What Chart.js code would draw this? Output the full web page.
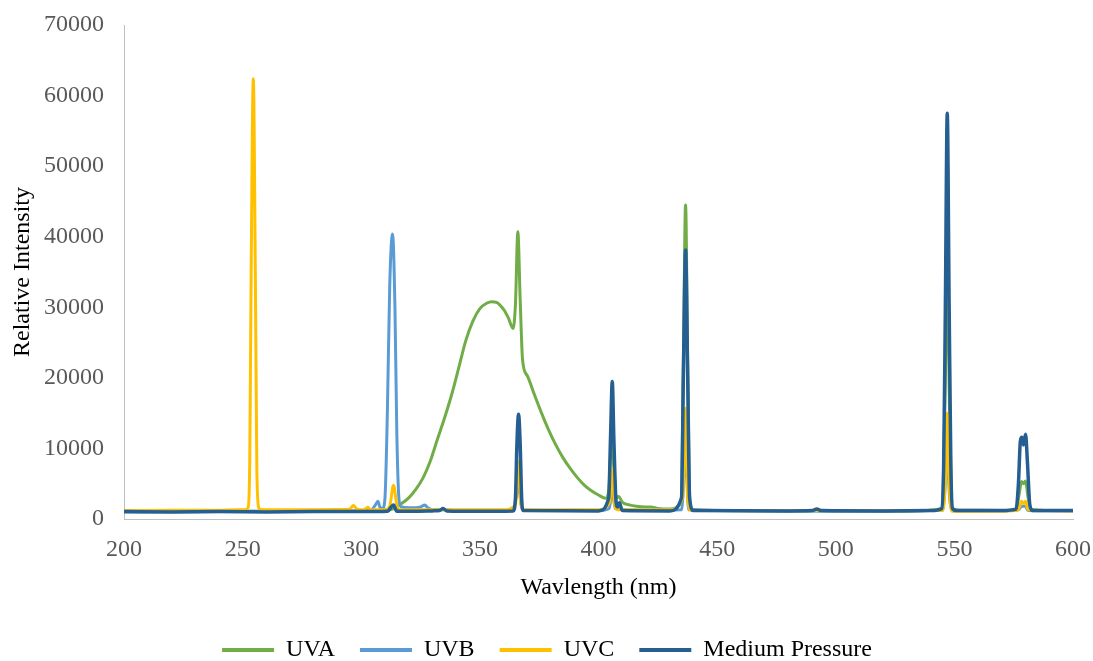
<!DOCTYPE html>
<html>
<head>
<meta charset="utf-8">
<script src="https://cdn.jsdelivr.net/npm/chart.js@4.4.1/dist/chart.umd.min.js"></script>
<style>
  html, body { margin: 0; padding: 0; background: #ffffff; }
  #wrap { width: 1093px; height: 661px; position: relative; }
</style>
</head>
<body>
<div id="wrap"><canvas id="c" width="1093" height="661"></canvas></div>
<script>
// ---- data ----
const seriesNames = ["UVA", "UVB", "UVC", "Medium Pressure"];
const xTicks = [200, 250, 300, 350, 400, 450, 500, 550, 600];
const yTicks = [0, 10000, 20000, 30000, 40000, 50000, 60000, 70000];

const uvaWl  = [200, 220, 240, 260, 280, 300, 310, 314, 316, 320, 323, 326, 329, 332, 335, 338, 341, 344, 347, 350, 353, 355, 357, 360, 362, 364, 365, 366, 367, 368, 370, 373, 376, 379, 382, 385, 388, 391, 394, 397, 400, 403, 404.3, 405.1, 405.8, 406.6, 407.5, 408.5, 410, 413, 416, 420, 422, 425, 430, 434.8, 435.8, 436.7, 437.6, 438.5, 440, 450, 480, 500, 530, 544.8, 546.1, 547, 547.9, 549.2, 552, 570, 576, 577.3, 578.3, 579.2, 580, 581, 582.3, 590, 600];
const uvaInt = [1100, 1100, 1150, 1100, 1150, 1150, 1200, 1500, 1950, 3000, 4200, 5800, 8100, 11200, 14200, 17500, 21300, 25200, 28000, 29800, 30600, 30800, 30700, 29700, 28500, 27000, 30500, 40700, 31000, 22500, 20300, 17600, 15000, 12600, 10500, 8700, 7200, 5900, 4800, 4000, 3400, 2950, 4000, 9000, 12000, 6000, 3000, 3200, 2400, 2000, 1800, 1700, 1700, 1500, 1400, 2500, 23000, 44500, 22000, 2500, 1300, 1200, 1150, 1150, 1100, 1500, 18000, 37000, 17000, 1500, 1250, 1200, 1300, 3500, 5300, 5000, 5400, 3200, 1400, 1200, 1200];

const uvbWl  = [200, 250, 290, 300, 304, 306, 307, 308, 309, 310, 311, 312, 313.2, 314.2, 315, 316, 317, 320, 323, 325, 326.8, 328, 331, 335, 340, 360, 364, 365.5, 366.3, 367, 368, 380, 400, 404.5, 405.8, 407, 420, 435, 436.7, 438, 460, 500, 545, 546.2, 547, 548, 549, 570, 577, 578.4, 580, 581, 600];
const uvbInt = [1000, 1050, 1050, 1100, 1200, 2000, 2500, 1600, 1500, 3000, 15000, 33000, 40400, 30000, 12000, 2500, 1700, 1600, 1600, 1700, 2000, 1600, 1300, 1300, 1200, 1200, 1300, 3500, 6000, 3000, 1300, 1200, 1200, 1500, 4000, 1500, 1250, 1300, 9000, 1300, 1200, 1150, 1200, 5000, 9000, 3000, 1200, 1150, 1300, 1800, 1800, 1200, 1150];

const uvcWl  = [200, 220, 240, 248, 251, 252.3, 253, 253.6, 254.5, 255.4, 256, 256.8, 258, 270, 290, 295, 296.7, 298, 301, 302.8, 304, 310, 312, 313.6, 315, 316, 330, 360, 365, 366.3, 367.3, 369, 400, 404.8, 405.8, 406.8, 408, 430, 435.5, 436.7, 437.6, 439, 500, 545, 546.3, 547, 547.8, 549, 570, 577, 578.3, 579.2, 580, 581, 600];
const uvcInt = [1200, 1250, 1250, 1300, 1300, 1600, 8000, 35000, 62400, 33000, 7000, 1600, 1300, 1300, 1350, 1400, 1900, 1450, 1300, 1650, 1300, 1300, 1800, 4800, 2000, 1300, 1300, 1300, 2000, 8100, 2000, 1300, 1300, 2500, 7200, 2000, 1300, 1300, 3000, 15700, 3000, 1200, 1200, 1200, 6000, 15000, 5000, 1100, 1100, 1300, 2500, 2200, 2500, 1300, 1150];

const mpWl  = [200, 220, 240, 260, 280, 300, 311, 313.6, 315, 330, 333, 334.5, 336, 350, 364, 365, 365.6, 366.3, 367, 367.6, 368.3, 400, 404.3, 405.1, 405.8, 406.5, 407.3, 408, 408.8, 410, 430, 435, 435.8, 436.7, 437.6, 438.4, 440, 480, 490, 492, 494, 520, 540, 544.8, 545.5, 546.2, 547, 547.8, 548.5, 549.2, 551, 570, 576, 577, 577.8, 578.4, 579.1, 580, 580.8, 581.8, 583, 600];
const mpInt = [1050, 1000, 1050, 1000, 1050, 1050, 1100, 2000, 1100, 1150, 1200, 1500, 1150, 1100, 1150, 3000, 10500, 14850, 10500, 3000, 1200, 1150, 3000, 12000, 19500, 11000, 3000, 1700, 2300, 1200, 1150, 3000, 21000, 38100, 20000, 3000, 1200, 1150, 1200, 1400, 1200, 1150, 1200, 1500, 8000, 30000, 57500, 30000, 8000, 1500, 1200, 1200, 1400, 5000, 11000, 11600, 10500, 12000, 8000, 2000, 1200, 1200];

const colors = ["#70AD47", "#5B9BD5", "#FFC000", "#255E91"];

function pts(xs, ys) { return xs.map((x, i) => ({ x: x, y: ys[i] })); }

const FONT = "'Liberation Serif', 'Times New Roman', serif";
const allWl = [uvaWl, uvbWl, uvcWl, mpWl];
const allInt = [uvaInt, uvbInt, uvcInt, mpInt];

const datasets = seriesNames.map((name, i) => ({
  label: name,
  data: pts(allWl[i], allInt[i]),
  borderColor: colors[i],
  backgroundColor: colors[i],
  borderWidth: i === 3 ? 3.5 : 3,
  pointRadius: 0,
  pointHoverRadius: 0,
  fill: false,
  tension: 0,
  cubicInterpolationMode: 'monotone',
  borderJoinStyle: 'round',
  borderCapStyle: 'round',
  order: 4 - i
}));

new Chart(document.getElementById('c'), {
  type: 'line',
  data: { datasets: datasets },
  options: {
    responsive: false,
    animation: false,
    events: [],
    layout: { padding: { left: 8, right: 7, top: 0, bottom: -11 } },
    plugins: {
      tooltip: { enabled: false },
      legend: {
        position: 'bottom',
        align: 'center',
        labels: {
          boxWidth: 52,
          boxHeight: 4,
          padding: 25,
          color: '#000000',
          font: { family: FONT, size: 24 },
          generateLabels: (chart) => chart.data.datasets.map((d, i) => ({
            text: d.label,
            fillStyle: d.borderColor,
            strokeStyle: d.borderColor,
            lineWidth: 0,
            hidden: false,
            datasetIndex: i
          }))
        }
      }
    },
    scales: {
      x: {
        type: 'linear',
        min: 200,
        max: 600,
        afterBuildTicks: (s) => { s.ticks = xTicks.map(v => ({ value: v })); },
        afterFit: (s) => { s.height = 94; s.paddingRight = 20; s.paddingLeft = 0; },
        grid: { display: false, drawTicks: false },
        border: { display: true, color: '#BFBFBF', width: 1 },
        ticks: { color: '#595959', padding: 16, font: { family: FONT, size: 24 }, maxRotation: 0, autoSkip: false },
        title: { display: true, text: 'Wavlength (nm)', color: '#000000', font: { family: FONT, size: 24 }, padding: { top: 8, bottom: 11 } }
      },
      y: {
        type: 'linear',
        min: 0,
        max: 70000,
        afterBuildTicks: (s) => { s.ticks = yTicks.map(v => ({ value: v })); },
        afterFit: (s) => { s.width = 116; s.paddingTop = 25; s.paddingBottom = 0; },
        grid: { display: false, drawTicks: false },
        border: { display: true, color: '#BFBFBF', width: 1 },
        ticks: { color: '#595959', padding: 20, font: { family: FONT, size: 24 }, callback: (v) => String(v) },
        title: { display: true, text: 'Relative Intensity', color: '#000000', font: { family: FONT, size: 24 }, padding: { top: 0, bottom: 0 } }
      }
    }
  }
});
</script>
</body>
</html>
